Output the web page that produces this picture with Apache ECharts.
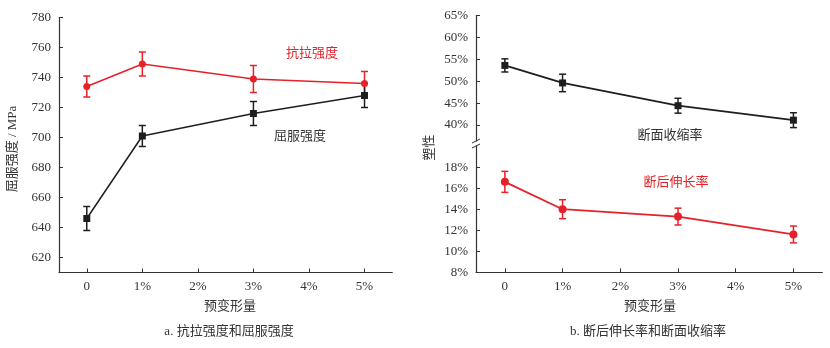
<!DOCTYPE html>
<html>
<head>
<meta charset="utf-8">
<script src="https://cdn.jsdelivr.net/npm/echarts@6/dist/echarts.min.js"></script>
<style>
  html, body { margin: 0; padding: 0; background: #fff; }
  #chart { width: 830px; height: 348px; }
</style>
</head>
<body>
<div id="chart"></div>
<script>
// Pre-strain levels (%) shared by both panels
const preStrain = [0, 1, 3, 5];
const strainTicks = [0, 1, 2, 3, 4, 5];

// Panel a: strength (MPa) with error half-widths
const tensileStrength = [734, 749, 739, 736];
const tensileErr = [7, 8, 9, 8];
const yieldStrength = [646, 701, 716, 728];
const yieldErr = [8, 7, 8, 8];
const strengthTicks = [620, 640, 660, 680, 700, 720, 740, 760, 780];

// Panel b: ductility (%) with error half-widths
const areaReduction = [53.6, 49.6, 44.4, 41.1];
const areaReductionErr = [1.5, 2.0, 1.7, 1.7];
const elongation = [16.6, 14.0, 13.3, 11.6];
const elongationErr = [1.0, 0.9, 0.8, 0.8];
const reductionTicks = [40, 45, 50, 55, 60, 65];
const elongationTicks = [8, 10, 12, 14, 16, 18];

const RED = '#e5222a';
const BLACK = '#1e1e1e';
const TEXT = '#333';
const FONT = "'Liberation Serif', 'Noto Sans CJK SC', serif";

const chart = echarts.init(document.getElementById('chart'), null, { renderer: 'canvas' });

function pairs(xs, ys) { return xs.map((x, i) => [x, ys[i]]); }
function errRows(xs, ys, es) { return xs.map((x, i) => [x, ys[i] - es[i], ys[i] + es[i]]); }

function errorBarRenderer(color) {
  return function (params, api) {
    const x = api.value(0);
    const lo = api.coord([x, api.value(1)]);
    const hi = api.coord([x, api.value(2)]);
    const w = 3.5;
    const style = { stroke: color, lineWidth: 1.5 };
    return {
      type: 'group',
      children: [
        { type: 'line', shape: { x1: hi[0], y1: hi[1], x2: lo[0], y2: lo[1] }, style },
        { type: 'line', shape: { x1: hi[0] - w, y1: hi[1], x2: hi[0] + w, y2: hi[1] }, style },
        { type: 'line', shape: { x1: lo[0] - w, y1: lo[1], x2: lo[0] + w, y2: lo[1] }, style }
      ]
    };
  };
}

const pctFmt = v => (v === 0 ? '0' : v + '%');

function xAxisCfg(gridIndex, visible) {
  return {
    type: 'value', gridIndex, min: -0.5, max: 5.5, show: visible,
    splitLine: { show: false },
    axisLine: { show: true, onZero: false, lineStyle: { color: TEXT, width: 1.2 } },
    axisTick: { show: true, inside: true, length: 4, customValues: strainTicks, lineStyle: { color: TEXT } },
    axisLabel: { customValues: strainTicks, formatter: pctFmt, color: TEXT, fontFamily: FONT, fontSize: 13, margin: 8 }
  };
}

function yAxisCfg(gridIndex, min, max, ticks, fmt) {
  return {
    type: 'value', gridIndex, min, max,
    splitLine: { show: false },
    axisLine: { show: true, onZero: false, lineStyle: { color: TEXT, width: 1.2 } },
    axisTick: { show: true, inside: true, length: 4, customValues: ticks, lineStyle: { color: TEXT } },
    axisLabel: { customValues: ticks, formatter: fmt, color: TEXT, fontFamily: FONT, fontSize: 13, margin: 8 }
  };
}

function lineSeries(name, xi, yi, data, color, symbol, size, width) {
  return {
    name, type: 'line', xAxisIndex: xi, yAxisIndex: yi, data,
    symbol, symbolSize: size, z: 3,
    itemStyle: { color },
    lineStyle: { color, width },
    animation: false
  };
}

function errSeries(xi, yi, data, color) {
  return {
    type: 'custom', xAxisIndex: xi, yAxisIndex: yi, data,
    encode: { x: 0, y: [1, 2] },
    renderItem: errorBarRenderer(color), z: 2, animation: false
  };
}

function label(text, x, y, color, rot) {
  return {
    type: 'text', x, y, rotation: rot || 0,
    style: { text, fill: color, font: '13px ' + FONT, align: 'center', verticalAlign: 'middle' }
  };
}

const option = {
  backgroundColor: '#fff',
  animation: false,
  grid: [
    { left: 59, right: 437.7, top: 17.5, bottom: 75.5 },
    { left: 476, right: 7.7, top: 15.5, height: 127 },
    { left: 476, right: 7.7, top: 144, bottom: 75.7 }
  ],
  xAxis: [xAxisCfg(0, true), xAxisCfg(1, false), xAxisCfg(2, true)],
  yAxis: [
    yAxisCfg(0, 610, 780, strengthTicks, v => String(v)),
    yAxisCfg(1, 36, 65, reductionTicks, v => v + '%'),
    yAxisCfg(2, 8, 20.2, elongationTicks, v => v + '%')
  ],
  series: [
    errSeries(0, 0, errRows(preStrain, tensileStrength, tensileErr), RED),
    lineSeries('抗拉强度', 0, 0, pairs(preStrain, tensileStrength), RED, 'circle', 7, 1.5),
    errSeries(0, 0, errRows(preStrain, yieldStrength, yieldErr), BLACK),
    lineSeries('屈服强度', 0, 0, pairs(preStrain, yieldStrength), BLACK, 'rect', 7, 1.5),
    errSeries(1, 1, errRows(preStrain, areaReduction, areaReductionErr), BLACK),
    lineSeries('断面收缩率', 1, 1, pairs(preStrain, areaReduction), BLACK, 'rect', 7, 1.8),
    errSeries(2, 2, errRows(preStrain, elongation, elongationErr), RED),
    lineSeries('断后伸长率', 2, 2, pairs(preStrain, elongation), RED, 'circle', 8, 1.8)
  ],
  graphic: [
    label('抗拉强度', 312, 54, RED),
    label('屈服强度', 300, 137, TEXT),
    label('断面收缩率', 670, 136, TEXT),
    label('断后伸长率', 676, 183, RED),
    label('屈服强度 / MPa', 12.5, 149, TEXT, Math.PI / 2),
    label('塑性', 430, 147.5, TEXT, Math.PI / 2),
    label('预变形量', 230, 307, TEXT),
    label('预变形量', 650, 307, TEXT),
    label('a. 抗拉强度和屈服强度', 229, 332, TEXT),
    label('b. 断后伸长率和断面收缩率', 648, 332, TEXT),
    // axis break on the ductility axis
    { type: 'rect', shape: { x: 472, y: 141.5, width: 8, height: 4 }, style: { fill: '#fff' }, z: 10 },
    { type: 'line', shape: { x1: 472, y1: 143, x2: 480, y2: 139 }, style: { stroke: TEXT, lineWidth: 1 }, z: 11 },
    { type: 'line', shape: { x1: 472, y1: 148, x2: 480, y2: 144 }, style: { stroke: TEXT, lineWidth: 1 }, z: 11 }
  ]
};

chart.setOption(option);
</script>
</body>
</html>
